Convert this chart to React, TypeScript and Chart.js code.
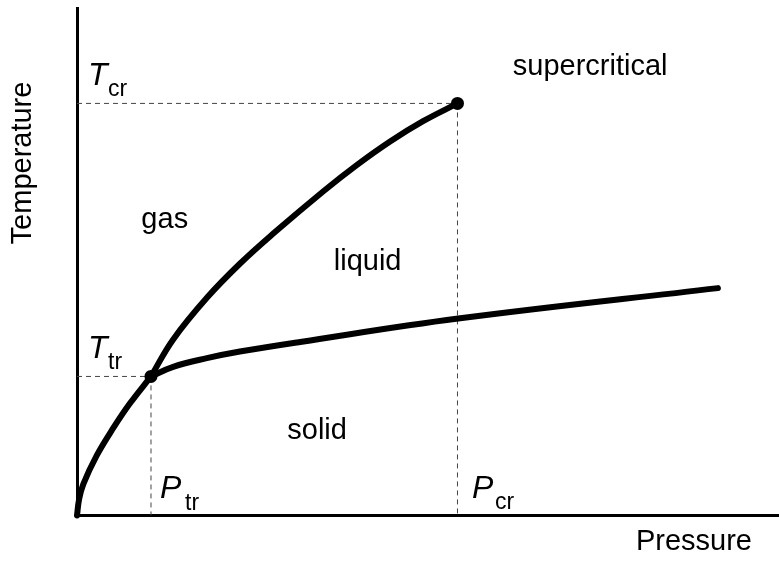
import React, { useEffect, useRef } from "react";
import { Chart, registerables } from "chart.js";

Chart.register(...registerables);

// ---- data (pressure / temperature in arbitrary units, 0..100) ----
const sublimationP = [0, 0.3, 0.9, 2.8, 5.2, 7.55, 10.54];
const sublimationT = [0, 3.2, 6.2, 11.8, 17.3, 22.1, 27.4];
const vaporizationP = [10.54, 13.7, 18.5, 23.2, 28.0, 35.1, 39.8, 44.6, 49.3, 54.2];
const vaporizationT = [27.4, 34.7, 42.9, 49.6, 55.6, 63.9, 69.0, 73.7, 77.7, 81.2];
const meltingP = [10.54, 13.7, 18.5, 23.2, 31.8, 54.3, 91.3];
const meltingT = [27.4, 29.3, 31.0, 32.3, 34.2, 38.8, 44.8];
const tripleP = 10.54;
const tripleT = 27.4;
const criticalP = 54.2;
const criticalT = 81.2;
const axisMax = 100;
const xTitle = "Pressure";
const yTitle = "Temperature";
const regionNames = ["gas", "liquid", "solid", "supercritical"];

const FONT = '"Liberation Sans", Arial, Helvetica, sans-serif';

const zip = (xs: number[], ys: number[]) => xs.map((x, i) => ({ x, y: ys[i] }));

const textPlugin = {
  id: "phaseText",
  afterDatasetsDraw(chart: any) {
    const { ctx, chartArea: a, scales } = chart;
    const x = scales.x;
    const y = scales.y;
    ctx.save();
    ctx.fillStyle = "#000";
    ctx.textBaseline = "alphabetic";

    // region labels (anchored in data space)
    const anchors: [number, number][] = [
      [12.5, 56.7],
      [41.4, 48.4],
      [34.2, 15.1],
      [73.1, 86.8],
    ];
    ctx.font = `29px ${FONT}`;
    ctx.textAlign = "center";
    regionNames.forEach((n, i) => {
      ctx.fillText(n, x.getPixelForValue(anchors[i][0]), y.getPixelForValue(anchors[i][1]));
    });

    // axis titles
    ctx.textAlign = "right";
    ctx.fillText(xTitle, a.right - 27, a.bottom + 34.5);
    ctx.save();
    ctx.translate(31, 163);
    ctx.rotate(-Math.PI / 2);
    ctx.textAlign = "center";
    ctx.fillText(yTitle, 0, 0);
    ctx.restore();

    // subscripted symbols
    const sym = (main: string, sub: string, mx: number, my: number, sx: number, sy: number) => {
      ctx.textAlign = "left";
      ctx.font = `italic 32px ${FONT}`;
      ctx.fillText(main, mx, my);
      ctx.font = `23px ${FONT}`;
      ctx.fillText(sub, sx, sy);
    };
    sym("T", "cr", 88, 85, 108, 95.5);
    sym("T", "tr", 88, 358, 108, 369);
    sym("P", "tr", 160, 497.5, 185, 510);
    sym("P", "cr", 472, 498, 495, 509);
    ctx.restore();
  },
};

export default function App() {
  const ref = useRef<HTMLCanvasElement | null>(null);

  useEffect(() => {
    if (!ref.current) return;
    const dashed = {
      borderColor: "#444",
      borderWidth: 1,
      borderDash: [5, 4],
      pointRadius: 0,
      tension: 0,
      order: 3,
    };
    const curve = {
      borderColor: "#000",
      borderWidth: 6,
      pointRadius: 0,
      tension: 0.4,
      borderCapStyle: "round" as const,
      order: 2,
      clip: false as const,
    };
    const chart = new Chart(ref.current, {
      type: "line",
      data: {
        datasets: [
          { ...dashed, data: [{ x: 0, y: tripleT }, { x: tripleP, y: tripleT }] },
          { ...dashed, data: [{ x: tripleP, y: tripleT }, { x: tripleP, y: 0 }] },
          { ...dashed, data: [{ x: 0, y: criticalT }, { x: criticalP, y: criticalT }] },
          { ...dashed, data: [{ x: criticalP, y: criticalT }, { x: criticalP, y: 0 }] },
          { ...curve, data: zip(sublimationP, sublimationT) },
          { ...curve, data: zip(vaporizationP, vaporizationT) },
          { ...curve, data: zip(meltingP, meltingT) },
          {
            data: [
              { x: tripleP, y: tripleT },
              { x: criticalP, y: criticalT },
            ],
            showLine: false,
            pointRadius: 6.5,
            pointBackgroundColor: "#000",
            pointBorderWidth: 0,
            order: 1,
            clip: false as const,
          },
        ],
      },
      options: {
        animation: false,
        responsive: false,
        events: [],
        layout: { autoPadding: false, padding: { left: 77, right: 0, top: 8, bottom: 46.5 } },
        plugins: { legend: { display: false }, tooltip: { enabled: false } },
        scales: {
          x: {
            type: "linear",
            min: 0,
            max: axisMax,
            grid: { display: false, drawTicks: false },
            ticks: { display: false },
            border: { display: true, color: "#000", width: 3 },
          },
          y: {
            type: "linear",
            min: 0,
            max: axisMax,
            grid: { display: false, drawTicks: false },
            ticks: { display: false },
            border: { display: true, color: "#000", width: 3 },
          },
        },
      },
      plugins: [textPlugin],
    });
    return () => chart.destroy();
  }, []);

  return (
    <canvas
      ref={ref}
      width={779}
      height={562}
      style={{ position: "absolute", left: 0, top: 0, display: "block", background: "#fff" }}
    />
  );
}
